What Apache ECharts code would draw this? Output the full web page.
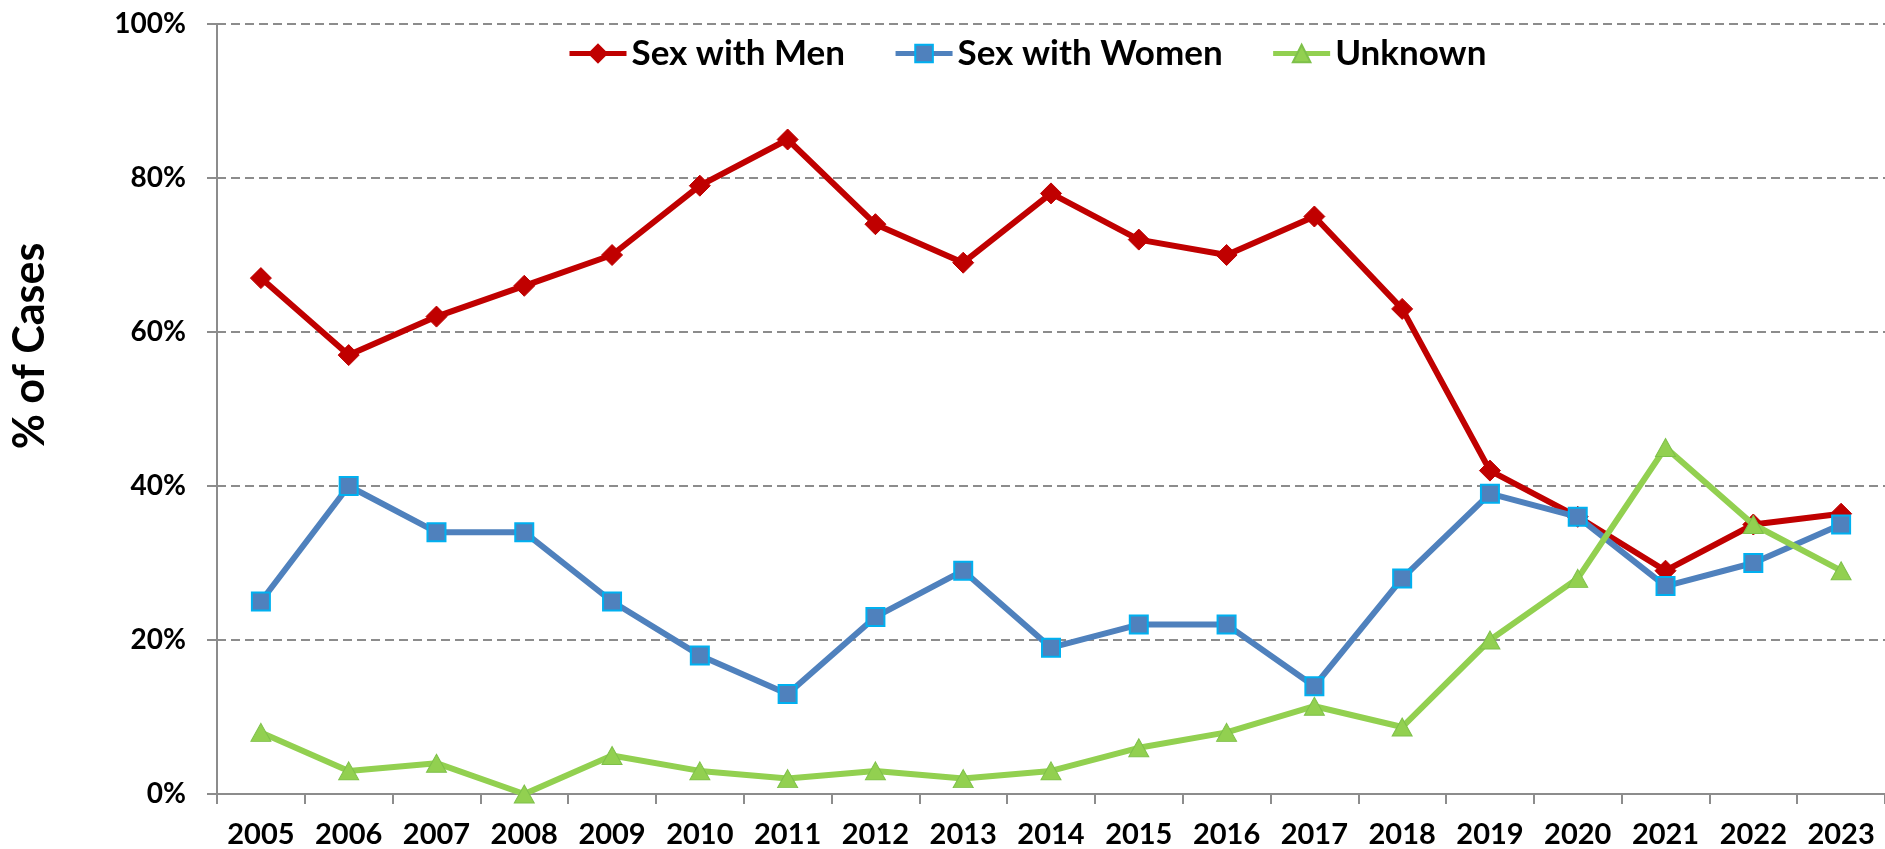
<!DOCTYPE html>
<html>
<head>
<meta charset="utf-8">
<title>% of Cases</title>
<script src="https://cdn.jsdelivr.net/npm/echarts@6/dist/echarts.min.js"></script>
<style>
	html, body { margin: 0; padding: 0; background: #ffffff; }
	#chart { width: 1885px; height: 849px; }
</style>
</head>
<body>
<div id="chart"></div>
<script>
var years = ["2005", "2006", "2007", "2008", "2009", "2010", "2011", "2012", "2013", "2014",
	"2015", "2016", "2017", "2018", "2019", "2020", "2021", "2022", "2023"];

var sexWithMen = [67, 57, 62, 66, 70, 79, 85, 74, 69, 78, 72, 70, 75, 63, 42, 36, 29, 35, 36.4];
var sexWithWomen = [25, 40, 34, 34, 25, 18, 13, 23, 29, 19, 22, 22, 14, 28, 39, 36, 27, 30, 35];
var unknown = [8, 3, 4, 0, 5, 3, 2, 3, 2, 3, 6, 8, 11.4, 8.7, 20, 28, 45, 35, 29];

var yTicks = [0, 20, 40, 60, 80, 100];

var fontFamily = "Lato, 'Open Sans', sans-serif";
var axisGrey = "#8c8c8c";

var chart = echarts.init(document.getElementById("chart"), null, { renderer: "canvas" });

var options =
{
	animation: false,
	backgroundColor: "#ffffff",
	textStyle: { fontFamily: fontFamily },
	grid:
	{
		left: 217,
		right: 0,
		top: 24,
		bottom: 54,
		containLabel: false
	},
	legend:
	{
		left: 562,
		top: 31,
		itemWidth: 57,
		itemHeight: 22,
		itemGap: 48,
		lineStyle: { width: 5 },
		textStyle: { fontSize: 35, fontWeight: "bold", color: "#000000", fontFamily: fontFamily },
		data: ["Sex with Men", "Sex with Women", "Unknown"]
	},
	xAxis:
	{
		type: "category",
		data: years,
		boundaryGap: true,
		axisLine: { lineStyle: { color: axisGrey, width: 2 } },
		axisTick: { show: true, length: 10, lineStyle: { color: axisGrey, width: 2 } },
		axisLabel: { margin: 26, fontSize: 29, fontWeight: "bold", color: "#000000", fontFamily: fontFamily },
		splitLine: { show: false }
	},
	yAxis:
	{
		type: "value",
		min: yTicks[0],
		max: yTicks[yTicks.length - 1],
		interval: 20,
		name: "% of Cases",
		nameLocation: "middle",
		nameGap: 165,
		nameRotate: 90,
		nameTextStyle:
		{
			fontSize: 43,
			fontWeight: "bold",
			color: "#000000",
			fontFamily: fontFamily,
			padding: [0, 0, 0, 126]
		},
		axisLine: { show: true, lineStyle: { color: axisGrey, width: 2 } },
		axisTick: { show: true, length: 10, lineStyle: { color: axisGrey, width: 2 } },
		axisLabel:
		{
			margin: 31,
			fontSize: 28,
			fontWeight: "bold",
			color: "#000000",
			fontFamily: fontFamily,
			formatter: function(v) { return v + "%"; }
		},
		splitLine: { show: true, lineStyle: { color: axisGrey, width: 2, type: [9, 5] } }
	},
	series:
	[
		{
			name: "Sex with Men",
			type: "line",
			data: sexWithMen,
			symbol: "diamond",
			symbolSize: 21,
			lineStyle: { color: "#C00000", width: 6 },
			itemStyle: { color: "#C00000", borderColor: "#C00000", borderWidth: 1 },
			z: 2
		},
		{
			name: "Sex with Women",
			type: "line",
			data: sexWithWomen,
			symbol: "rect",
			symbolSize: 18,
			lineStyle: { color: "#4F81BD", width: 6 },
			itemStyle: { color: "#4F81BD", borderColor: "#00B0F0", borderWidth: 2 },
			z: 3
		},
		{
			name: "Unknown",
			type: "line",
			data: unknown,
			symbol: "triangle",
			symbolSize: [20, 18],
			lineStyle: { color: "#92D050", width: 6 },
			itemStyle: { color: "#92D050", borderColor: "#7EC04A", borderWidth: 1 },
			z: 4
		}
	]
};

chart.setOption(options);
</script>
</body>
</html>
